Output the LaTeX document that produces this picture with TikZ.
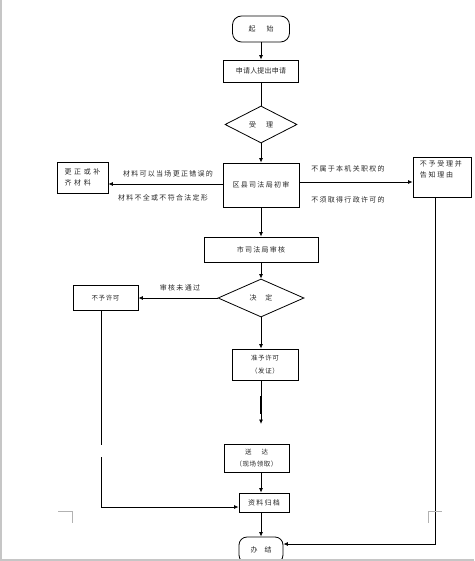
\documentclass[tikz,border=0pt]{standalone}
\usepackage{fontspec}
\setmainfont{Noto Sans CJK SC}
\newfontfamily\fa{Noto Sans CJK SC}[LetterSpace=18]
\newfontfamily\fb{Noto Sans CJK SC}[LetterSpace=3]
\newfontfamily\fc{Noto Sans CJK SC}[LetterSpace=38]
\newfontfamily\fd{Noto Sans CJK SC}[LetterSpace=25]
\newfontfamily\fe{Noto Sans CJK SC}[LetterSpace=8]
\usetikzlibrary{arrows.meta,shapes.geometric}
\begin{document}
\begin{tikzpicture}[x=1pt,y=-1pt,
  ln/.style={line width=0.8pt,black},
  arr/.style={-{Latex[length=4.5pt,width=4pt]}},
  box/.style={draw,line width=0.8pt,inner sep=0pt,align=center,text=black!85,font=\fa\fontsize{7}{11}\selectfont},
  term/.style={box,rounded corners=9pt},
  dia/.style={box,diamond,shape aspect=2},
  lab/.style={inner sep=0pt,text=black!85,font=\fa\fontsize{7}{9}\selectfont},
  crop/.style={gray!60,line width=0.7pt},
  frame/.style={gray!45,line width=1.2pt}]
\useasboundingbox (0,0) rectangle (474,561);
\clip (0,0) rectangle (474,561);

% nodes
\node[term,minimum width=57pt,minimum height=26pt] (st) at (261,29) {起\hspace{11pt}始};
\node[box,minimum width=75pt,minimum height=22pt,font=\fb\fontsize{7}{9}\selectfont] (sq) at (261,71) {申请人提出申请};
\node[dia,minimum width=72pt,minimum height=37pt] (sl) at (261,124.5) {受\hspace{10pt}理};
\node[box,minimum width=76pt,minimum height=44pt] (qx) at (261,185) {区县司法局初审};
\node[box,minimum width=51pt,minimum height=31pt,align=left,font=\fc\fontsize{7}{11.5}\selectfont] (gz) at (82.5,177.5) {更正或补\\齐材料};
\node[box,minimum width=58pt,minimum height=40pt] (bh) at (442,177) {};
\node[anchor=north west,inner sep=0pt,align=left,text=black!85,font=\fd\fontsize{7}{10.5}\selectfont] (bht) at ([shift={(7pt,-4pt)}]bh.north west) {不予受理并\\告知理由};
\node[box,minimum width=114pt,minimum height=25pt] (sh) at (261,249.5) {市司法局审核};
\node[dia,minimum width=86pt,minimum height=38pt] (jd) at (261,298) {决\hspace{9pt}定};
\node[box,minimum width=65pt,minimum height=25pt,font=\fe\fontsize{6.5}{9}\selectfont] (by) at (105.5,298) {不予许可};
\node[box,minimum width=66pt,minimum height=31pt,font=\fe\fontsize{6.5}{13}\selectfont] (zy) at (265,364.5) {准予许可\\（发证）};
\node[box,minimum width=65pt,minimum height=28pt,font=\fe\fontsize{6.5}{12}\selectfont] (sd) at (256.5,458) {送\hspace{10pt}达\\（现场领取）};
\node[box,minimum width=50pt,minimum height=19pt] (zl) at (264,502.5) {资料归档};
\node[term,minimum width=44pt,minimum height=26pt,rounded corners=8pt] (bj) at (261,550) {办\hspace{7pt}结};
\coordinate (c1) at (261,424);

% labels
\node[lab] at (168,174) {材料可以当场更正错误的};
\node[lab] at (163,198) {材料不全或不符合法定形};
\node[lab] at (348,169) {不属于本机关职权的};
\node[lab] at (348,200) {不须取得行政许可的};
\node[lab] at (180,288) {审核未通过};

% connectors
\draw[ln,arr] (st.south) -- (sq.north);
\draw[ln] (sq.south) -- (sl.north);
\draw[ln,arr] (sl.south) -- (qx.north);
\draw[ln,arr] (qx.west |- 0,184) -- (gz.east |- 0,184);
\draw[ln,arr] (qx.east |- 0,182) -- (bh.west |- 0,182);
\draw[ln,arr] (qx.south) -- (sh.north);
\draw[ln,arr] (sh.south) -- (jd.north);
\draw[ln,arr] (jd.west) -- (by.east);
\draw[ln,arr] (jd.south) -- (jd.south |- zy.north);
\draw[ln,arr] (zy.south -| jd.south) -- (c1);
\draw[line width=1.4pt] (261,396) -- (261,414);
\draw[ln,arr] (sd.south -| jd.south) -- (zl.north -| jd.south);
\draw[ln,arr] (zl.south -| jd.south) -- (bj.north -| jd.south);
\draw[ln] ([xshift=-4pt]by.south) -- ([xshift=-4pt]by.south |- 0,445);
\draw[ln,arr] ([xshift=-4pt]by.south |- 0,457) -- ([xshift=-4pt]by.south |- 0,507) -- (zl.west |- 0,507);
\draw[ln,arr] ([xshift=-7pt]bh.south) -- ([xshift=-7pt]bh.south |- 0,544) -- (bj.east |- 0,544);

% page marks
\draw[crop] (58,511) -- (72,511) -- (72,523);
\draw[crop] (428,523) -- (428,511) -- (442,511);
\draw[frame] (1,0) -- (1,560) -- (474,560);
\end{tikzpicture}
\end{document}
